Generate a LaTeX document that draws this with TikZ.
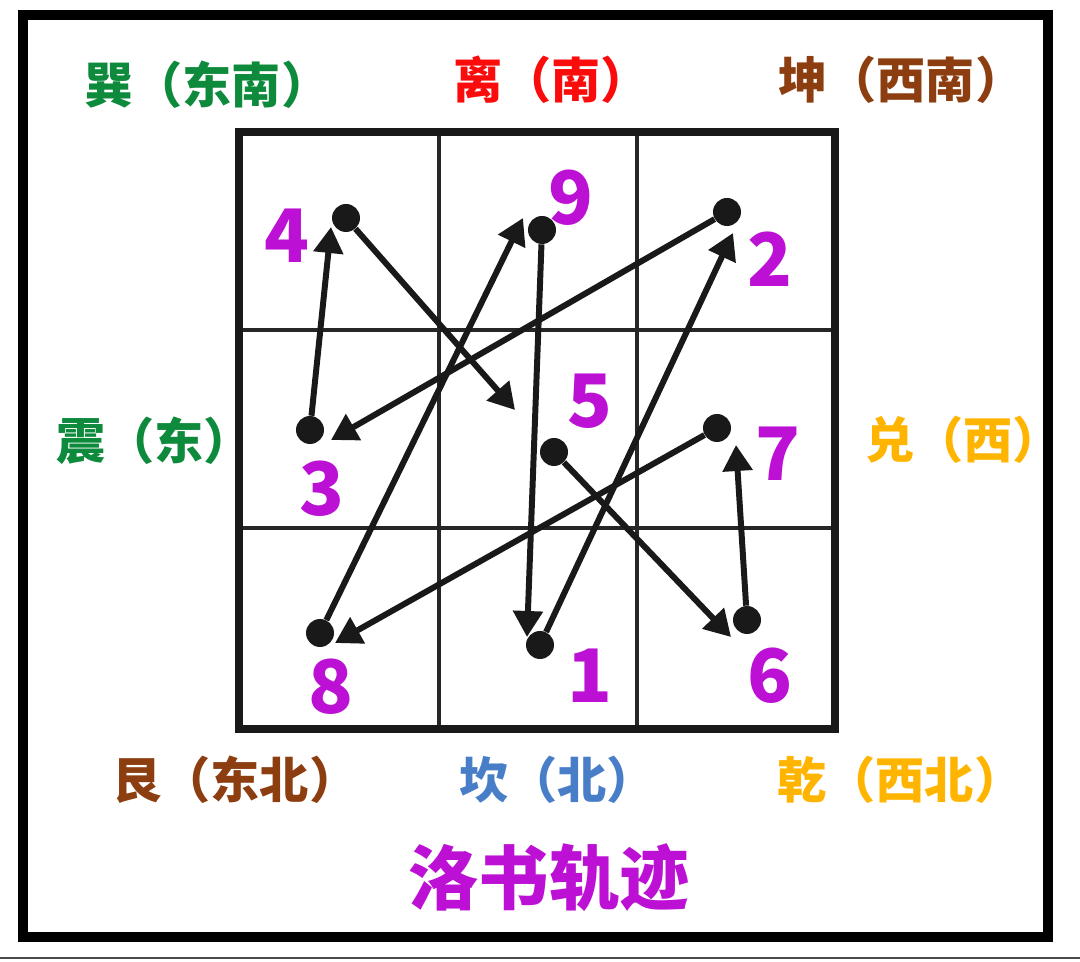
\documentclass[tikz,border=0pt]{standalone}
\usepackage{fontspec}
\newfontfamily\cjk{Noto Sans CJK SC}
\usetikzlibrary{arrows.meta}
\definecolor{xungreen}{RGB}{14,138,60}
\definecolor{lired}{RGB}{250,12,12}
\definecolor{kunbrown}{RGB}{140,62,16}
\definecolor{qiangold}{RGB}{255,180,0}
\definecolor{kanblue}{RGB}{72,126,200}
\definecolor{shupurple}{RGB}{188,16,212}

\begin{document}
\begin{tikzpicture}[
        x=0.02cm, y=-0.02cm,
        gua/.style={anchor=west, inner sep=0pt,
            font=\cjk\bfseries\fontsize{28}{30}\selectfont},
        num/.style={inner sep=0pt, text=shupurple,
            font=\cjk\bfseries\fontsize{42}{44}\selectfont},
        dot/.style={circle, fill=black!90, inner sep=0pt, minimum size=0.56cm},
        trail/.style={line width=3.4pt, black!90,
            -{Triangle[length=0.52cm, width=0.58cm]}},
        cellline/.style={line width=1.9pt, black!85},
        squareline/.style={line width=4.2pt, black!90}
    ]
    \useasboundingbox (0,0) rectangle (1080,962);

    \draw[line width=5.5pt] (23,15) rectangle (1048,937);
    \draw[line width=1pt, black!70] (0,958) -- (1080,958);

    \draw[cellline] (439,132) -- (439,729) (637,132) -- (637,729)
        (239,330) -- (835,330) (239,528) -- (835,528);
    \draw[squareline] (239,132) rectangle (835,729);

    \node[gua, text=xungreen] (xun) at (84,85) {巽（东南）};
    \node[gua, text=lired] (li) at (453,80) {离（南）};
    \node[gua, text=kunbrown] (kun) at (778,80) {坤（西南）};
    \node[gua, text=xungreen] (zhen) at (56,441) {震（东）};
    \node[gua, text=qiangold] (dui) at (865,440) {兑（西）};
    \node[gua, text=kunbrown] (gen) at (112,780) {艮（东北）};
    \node[gua, text=kanblue] (kan) at (459,780) {坎（北）};
    \node[gua, text=qiangold] (qian) at (777,780) {乾（西北）};

    \node[inner sep=0pt, text=shupurple,
        font=\cjk\bfseries\fontsize{40}{42}\selectfont] (title) at (549,878) {洛书轨迹};

    \node[num] (n1) at (590,676) {1};
    \node[num] (n2) at (770,259) {2};
    \node[num] (n3) at (322,489) {3};
    \node[num] (n4) at (287,236) {4};
    \node[num] (n5) at (590,401) {5};
    \node[num] (n6) at (770,676) {6};
    \node[num] (n7) at (778,454) {7};
    \node[num] (n8) at (331,687) {8};
    \node[num] (n9) at (571,198) {9};

    \node[dot] (d1) at (540,645) {};
    \node[dot] (d2) at (727,212) {};
    \node[dot] (d3) at (310,430) {};
    \node[dot] (d4) at (346,218) {};
    \node[dot] (d5) at (554,452) {};
    \node[dot] (d6) at (747,620) {};
    \node[dot] (d7) at (717,428) {};
    \node[dot] (d8) at (320,633) {};
    \node[dot] (d9) at (542,230) {};

    \coordinate (t1) at (527,637);
    \coordinate (t2) at (733,233);
    \coordinate (t3) at (331,440);
    \coordinate (t4) at (331,227);
    \coordinate (t5) at (515,410);
    \coordinate (t6) at (731,637);
    \coordinate (t7) at (736,445);
    \coordinate (t8) at (335,643);
    \coordinate (t9) at (523,218);

    \foreach \a/\b in {1/2,2/3,3/4,4/5,5/6,6/7,7/8,8/9,9/1}
        \draw[trail] (d\a) -- (t\b);
\end{tikzpicture}
\end{document}
